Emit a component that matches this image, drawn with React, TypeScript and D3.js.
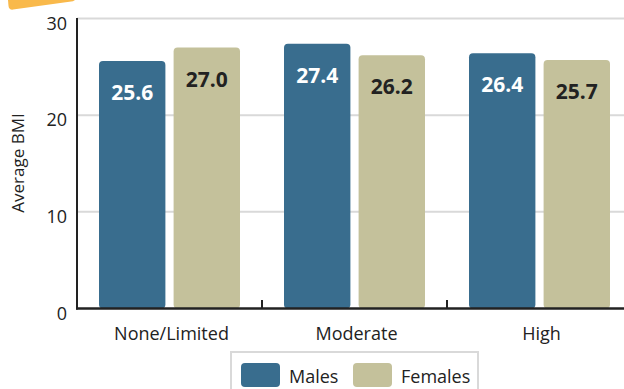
import React from "react";
import * as d3 from "d3";

const categories = ["None/Limited", "Moderate", "High"];
const seriesNames = ["Males", "Females"];
const males = [25.6, 27.4, 26.4];
const females = [27.0, 26.2, 25.7];
const yTicks = [0, 10, 20, 30];
const colors = ["#396d8e", "#c4c19b"];
const labelColors = ["#ffffff", "#222222"];

const W = 624;
const H = 389;
const FONT = "'Open Sans', sans-serif";

export default function App() {
  const x0 = d3.scaleBand<string>().domain(categories).range([77, 632]).paddingInner(0).paddingOuter(0);
  const x1 = d3.scaleBand<string>().domain(seriesNames).range([22, 163]).paddingInner(0.11);
  const y = d3.scaleLinear().domain([0, 30]).range([308.5, 18.5]);
  const values = [males, females];

  return (
    <svg width={W} height={H} style={{ position: "absolute", left: 0, top: 0, fontFamily: FONT }}>
      <path d="M8,0 L75,0 L73,1.2 L13,9.6 Q9,10 8.5,6 Z" fill="#f9b94b" />
      {yTicks.filter((t) => t > 0).map((t) => (
        <line key={"g" + t} x1={77} x2={W} y1={y(t)} y2={y(t)} stroke="#d9d9d9" strokeWidth={2} />
      ))}
      {yTicks.map((t) => (
        <text key={"t" + t} x={67} y={y(t) + 11} textAnchor="end" fontSize={18} fill="#222">
          {t}
        </text>
      ))}
      <text transform={`translate(24,163) rotate(-90)`} textAnchor="middle" fontSize={17} fill="#222">
        Average BMI
      </text>
      {categories.map((c, i) => (
        <g key={c} transform={`translate(${x0(c)},0)`}>
          {seriesNames.map((s, j) => {
            const v = values[j][i];
            const bx = x1(s)!;
            const bw = x1.bandwidth();
            return (
              <g key={s}>
                <rect x={bx} y={y(v)} width={bw} height={y(0) - y(v)} rx={4} fill={colors[j]} />
                <text
                  x={bx + bw / 2}
                  y={y(v) + 39}
                  textAnchor="middle"
                  fontSize={21}
                  fontWeight="bold"
                  fill={labelColors[j]}
                >
                  {v.toFixed(1)}
                </text>
              </g>
            );
          })}
          <text x={x0.bandwidth() / 2 + 2} y={340} textAnchor="middle" fontSize={18} fill="#222">
            {c}
          </text>
        </g>
      ))}
      <line x1={77} x2={77} y1={18} y2={309.5} stroke="#222" strokeWidth={2} />
      <line x1={76} x2={W} y1={308.5} y2={308.5} stroke="#222" strokeWidth={2.5} />
      {categories.slice(1).map((c) => (
        <line key={"tk" + c} x1={x0(c)!} x2={x0(c)!} y1={308} y2={300} stroke="#222" strokeWidth={2} />
      ))}
      <rect x={231} y={352} width={247} height={45} fill="#fff" stroke="#d9d9d9" strokeWidth={2} />
      {seriesNames.map((s, j) => {
        const lx = j === 0 ? 241 : 353;
        return (
          <g key={"l" + s}>
            <rect x={lx} y={363} width={39} height={24} rx={4} fill={colors[j]} />
            <text x={lx + 48} y={383} fontSize={18} fill="#222">
              {s}
            </text>
          </g>
        );
      })}
    </svg>
  );
}
